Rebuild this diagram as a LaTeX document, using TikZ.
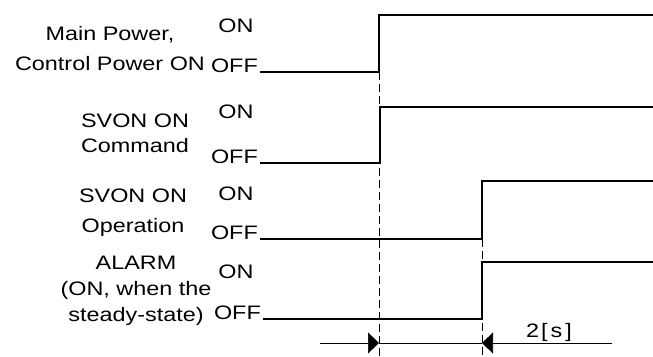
\documentclass[tikz,border=0pt]{standalone}
\usepackage{fontspec}
\setmainfont[FakeStretch=1.2]{Liberation Sans}
\usetikzlibrary{arrows.meta,positioning}

\tikzset{
  sig/.style={line width=2.4pt, line join=miter},
  guide/.style={line width=0.7pt, dash pattern=on 8pt off 4pt},
  dimline/.style={line width=0.7pt},
  lvl/.style={font=\fontsize{19.5}{22}\selectfont, inner sep=0pt},
  signame/.style={font=\fontsize{19.5}{#1}\selectfont, align=center, inner sep=0pt},
  signame/.default=27,
}

\begin{document}
\begin{tikzpicture}[x=1pt,y=-1pt]
  \useasboundingbox (0,0) rectangle (653,356);

  % rise points of the signals
  \coordinate (r1) at (379,72);
  \coordinate (r3) at (482,239);

  % Main Power, Control Power ON
  \draw[sig] (260,72) -- (r1) -- (379,15) -- (653,15);
  \node[lvl,anchor=base east] (off1) at (258,72) {OFF};
  \node[lvl,anchor=base] (on1) at (236,32) {ON};
  \node[signame=30,anchor=base] (name1) at (110,70) {Main Power,\\Control Power ON};

  % SVON ON Command
  \draw[sig] (260,163) -- (380,163) -- (380,107) -- (653,107);
  \node[lvl,anchor=base east] (off2) at (258,163) {OFF};
  \node[lvl,anchor=base] (on2) at (236,118) {ON};
  \node[signame=25,anchor=base] (name2) at (135,152) {SVON ON\\Command};

  % SVON ON Operation
  \draw[sig] (260,239) -- (r3) -- (482,181) -- (653,181);
  \node[lvl,anchor=base east] (off3) at (258,239) {OFF};
  \node[lvl,anchor=base] (on3) at (236,200) {ON};
  \node[signame=30,anchor=base] (name3) at (133,232) {SVON ON\\Operation};

  % ALARM
  \draw[sig] (263,319) -- (482,319) -- (482,262) -- (653,262);
  \node[lvl,anchor=base east] (off4) at (261,319) {OFF};
  \node[lvl,anchor=base] (on4) at (236,278) {ON};
  \node[signame=26,anchor=base] (name4) at (136,321) {ALARM\\(ON, when the\\steady-state)};

  % timing guides
  \coordinate (g1) at (379,356);
  \coordinate (g3) at (482,356);
  \draw[guide] (r1) -- (g1);
  \draw[guide] (r3) -- (g3);

  % 2[s] interval
  \coordinate (a0) at (320,343);
  \coordinate (a1) at (379,343);
  \coordinate (a3) at (482,343);
  \coordinate (a4) at (612,343);
  \draw[dimline,-{Triangle[length=11pt,width=21pt]}] (a0) -- (a1);
  \draw[dimline] (a1) -- (a3);
  \draw[dimline,-{Triangle[length=11pt,width=21pt]}] (a4) -- (a3);
  \node[lvl,anchor=base] (dt) at (549,337) {2\hspace{2pt}[\hspace{3pt}s\hspace{3pt}]};
\end{tikzpicture}
\end{document}
